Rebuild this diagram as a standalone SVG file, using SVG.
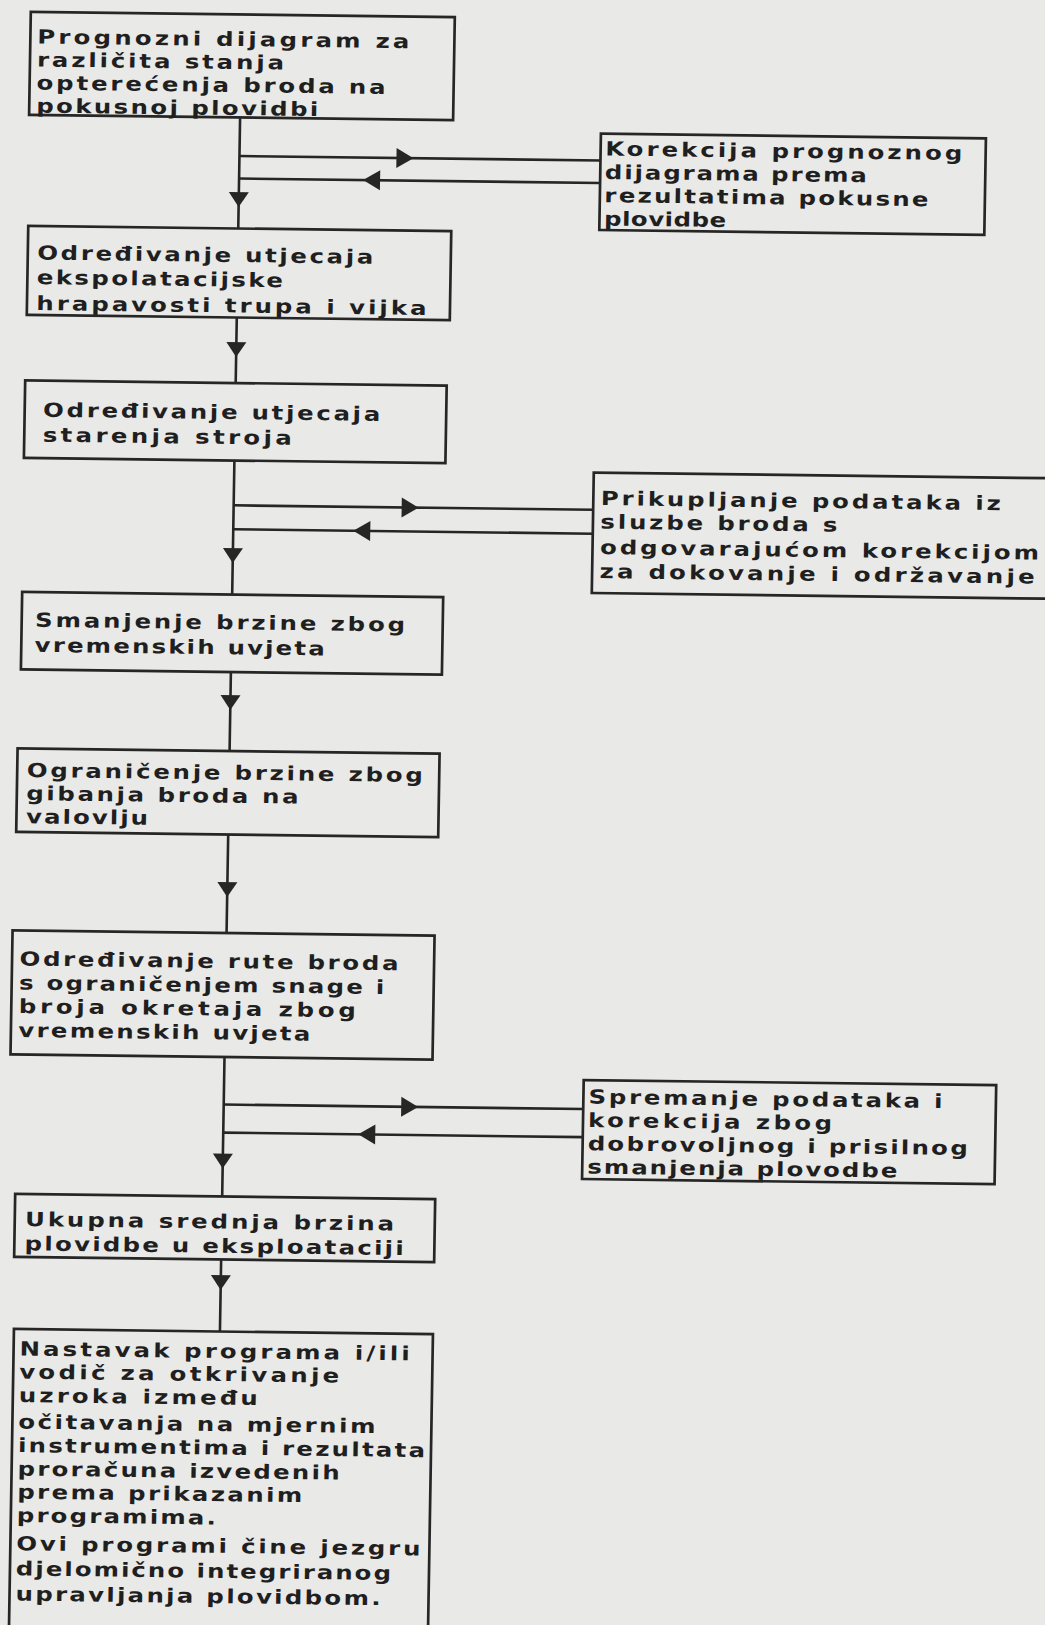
<svg xmlns="http://www.w3.org/2000/svg" xmlns:xlink="http://www.w3.org/1999/xlink" width="1045" height="1625" viewBox="0 0 1045 1625">
<defs>
<style>
.box{fill:none;stroke:#262626;stroke-width:2.7}
.ln{fill:none;stroke:#262626;stroke-width:2.6}
.ah{fill:#262626}
text{font-family:"DejaVu Sans",Verdana,sans-serif;font-weight:bold;font-size:19.5px;fill:#1f1f1f}
</style>
<polygon id="ahD" class="ah" points="-10,-15 10,-15 0,0"/>
<polygon id="ahR" class="ah" points="-17,-10 -17,10 0,0"/>
<polygon id="ahL" class="ah" points="17,-10 17,10 0,0"/>
</defs>
<rect width="1045" height="1625" fill="#e9e9e7"/>
<g transform="matrix(1 0.0125 -0.0166 1 0 0)">
<g id="connectors">
<path class="ln" d="M242 114V225.5M242 314.5V380M242 457.5V591.5M242 669V748M242 831.5V930M242 1054V1193.5M242 1256.5V1328.5"/>
<path class="ln" d="M242 153H603M242 175.5H603M242 502.3H601.5M242 526.2H601.5M242 1101.5H601.5M242 1129.6H601.5"/>
<use xlink:href="#ahD" x="242" y="204"/>
<use xlink:href="#ahD" x="242" y="354"/>
<use xlink:href="#ahD" x="242" y="560"/>
<use xlink:href="#ahD" x="242" y="707"/>
<use xlink:href="#ahD" x="242" y="894"/>
<use xlink:href="#ahD" x="242" y="1165.5"/>
<use xlink:href="#ahD" x="242" y="1287"/>
<use xlink:href="#ahR" x="416" y="153"/>
<use xlink:href="#ahR" x="427" y="502.3"/>
<use xlink:href="#ahR" x="436.5" y="1101.5"/>
<use xlink:href="#ahL" x="366" y="175.5"/>
<use xlink:href="#ahL" x="362" y="526.2"/>
<use xlink:href="#ahL" x="377" y="1129.6"/>
</g>
<g id="n1">
<rect class="box" x="31" y="11.5" width="424" height="103"/>
<text transform="matrix(1.25 0 0 1 38 43)" textLength="297.6">Prognozni dijagram za</text>
<text transform="matrix(1.25 0 0 1 38 66)" textLength="197.6">različita stanja</text>
<text transform="matrix(1.25 0 0 1 38 89)" textLength="279.2">opterećenja broda na</text>
<text transform="matrix(1.25 0 0 1 38 112)" textLength="225.6">pokusnoj plovidbi</text>
</g>
<g id="n2">
<rect class="box" x="32" y="225.5" width="423" height="89"/>
<text transform="matrix(1.25 0 0 1 41.5 259)" textLength="268.8">Određivanje utjecaja</text>
<text transform="matrix(1.25 0 0 1 41.5 283.5)" textLength="196.8">ekspolatacijske</text>
<text transform="matrix(1.25 0 0 1 41.5 309.5)" textLength="312">hrapavosti trupa i vijka</text>
</g>
<g id="n3">
<rect class="box" x="31.5" y="380" width="421.5" height="77.5"/>
<text transform="matrix(1.25 0 0 1 50 416)" textLength="269.6">Određivanje utjecaja</text>
<text transform="matrix(1.25 0 0 1 50 441)" textLength="199.2">starenja stroja</text>
</g>
<g id="n4">
<rect class="box" x="32" y="591.5" width="421" height="77.5"/>
<text transform="matrix(1.25 0 0 1 45.4 626.2)" textLength="296">Smanjenje brzine zbog</text>
<text transform="matrix(1.25 0 0 1 45.4 651.2)" textLength="232">vremenskih uvjeta</text>
</g>
<g id="n5">
<rect class="box" x="30" y="748" width="422" height="83.5"/>
<text transform="matrix(1.25 0 0 1 39.6 776.5)" textLength="316.8">Ograničenje brzine zbog</text>
<text transform="matrix(1.25 0 0 1 39.6 799.6)" textLength="217.6">gibanja broda na</text>
<text transform="matrix(1.25 0 0 1 39.6 822.7)" textLength="97.6">valovlju</text>
</g>
<g id="n6">
<rect class="box" x="28" y="930" width="422" height="124"/>
<text transform="matrix(1.25 0 0 1 35.5 965)" textLength="303.2">Određivanje rute broda</text>
<text transform="matrix(1.25 0 0 1 35.5 989)" textLength="292">s ograničenjem snage i</text>
<text transform="matrix(1.25 0 0 1 35.5 1012.5)" textLength="269.6">broja okretaja zbog</text>
<text transform="matrix(1.25 0 0 1 35.5 1036.5)" textLength="233.6">vremenskih uvjeta</text>
</g>
<g id="n7">
<rect class="box" x="35" y="1193.5" width="420" height="63"/>
<text transform="matrix(1.25 0 0 1 45.3 1225.4)" textLength="295.2">Ukupna srednja brzina</text>
<text transform="matrix(1.25 0 0 1 45.3 1249.7)" textLength="303.2">plovidbe u eksploataciji</text>
</g>
<g id="n8">
<rect class="box" x="36" y="1328.5" width="419" height="420"/>
<text transform="matrix(1.25 0 0 1 42 1355)" textLength="312">Nastavak programa i/ili</text>
<text transform="matrix(1.25 0 0 1 42 1378)" textLength="256">vodič za otkrivanje</text>
<text transform="matrix(1.25 0 0 1 42 1401.5)" textLength="191.2">uzroka između</text>
<text transform="matrix(1.25 0 0 1 42 1428)" textLength="285.6">očitavanja na mjernim</text>
<text transform="matrix(1.25 0 0 1 42 1451.5)" textLength="325.6">instrumentima i rezultata</text>
<text transform="matrix(1.25 0 0 1 42 1475)" textLength="257.6">proračuna izvedenih</text>
<text transform="matrix(1.25 0 0 1 42 1498)" textLength="228">prema prikazanim</text>
<text transform="matrix(1.25 0 0 1 42 1521.5)" textLength="159.2">programima.</text>
<text transform="matrix(1.25 0 0 1 42 1549.8)" textLength="323.2">Ovi programi čine jezgru</text>
<text transform="matrix(1.25 0 0 1 42 1574.8)" textLength="300">djelomično integriranog</text>
<text transform="matrix(1.25 0 0 1 42 1600)" textLength="292">upravljanja plovidbom.</text>
</g>
<g id="n9">
<rect class="box" x="603" y="126" width="385" height="96.5"/>
<text transform="matrix(1.25 0 0 1 607.6 148)" textLength="285.6">Korekcija prognoznog</text>
<text transform="matrix(1.25 0 0 1 607.6 171.3)" textLength="209.6">dijagrama prema</text>
<text transform="matrix(1.25 0 0 1 607.6 194.6)" textLength="259.2">rezultatima pokusne</text>
<text transform="matrix(1.25 0 0 1 607.6 217.9)" textLength="97.6">plovidbe</text>
</g>
<g id="n10">
<rect class="box" x="601.5" y="465" width="470" height="120.5"/>
<text transform="matrix(1.25 0 0 1 609 497.5)" textLength="320">Prikupljanje podataka iz</text>
<text transform="matrix(1.25 0 0 1 609 521)" textLength="189.6">sluzbe broda s</text>
<text transform="matrix(1.25 0 0 1 609 546.5)" textLength="351.2">odgovarajućom korekcijom</text>
<text transform="matrix(1.25 0 0 1 609 570.5)" textLength="348">za dokovanje i održavanje</text>
</g>
<g id="n11">
<rect class="box" x="601.5" y="1072.5" width="412.5" height="99"/>
<text transform="matrix(1.25 0 0 1 606.6 1096)" textLength="283.2">Spremanje podataka i</text>
<text transform="matrix(1.25 0 0 1 606.6 1119.3)" textLength="195.2">korekcija zbog</text>
<text transform="matrix(1.25 0 0 1 606.6 1142.7)" textLength="304">dobrovoljnog i prisilnog</text>
<text transform="matrix(1.25 0 0 1 606.6 1166)" textLength="248">smanjenja plovodbe</text>
</g>
</g>
</svg>
